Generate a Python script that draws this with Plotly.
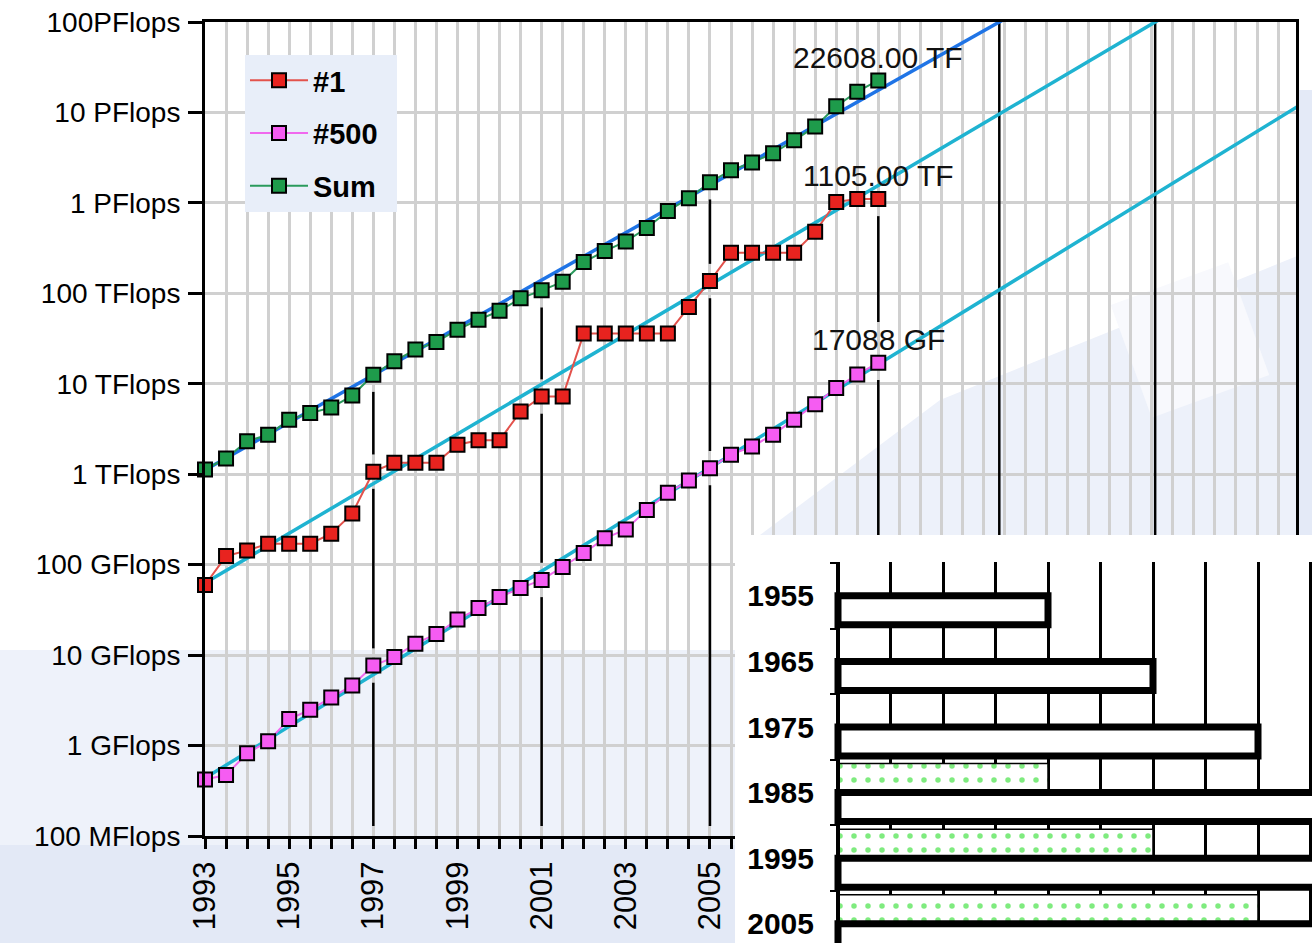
import math
import plotly.graph_objects as go

W, H = 1312, 943

# ---------------- data (TOP500 lists, June 1993 .. June 2009, GFlops) ----------------
list_years = [1993.0 + 0.5 * i for i in range(33)]

top1_gf = [59.7, 124.5, 143.4, 170.4, 170.4, 170.4, 220.4, 368.2, 1068, 1338, 1338, 1338,
           2121, 2379, 2379, 4938, 7226, 7226, 35860, 35860, 35860, 35860, 35860, 70720,
           136800, 280600, 280600, 280600, 280600, 478200, 1026000, 1105000, 1105000]

p500_gf = [0.422, 0.472, 0.822, 1.114, 1.965, 2.489, 3.39, 4.62, 7.67, 9.51, 13.39, 17.12,
           24.73, 33.1, 43.82, 55.1, 67.78, 94.3, 134.3, 195.8, 245.1, 403.4, 624, 850.6,
           1166, 1646, 2026, 2737, 4005, 5929, 9000, 12640, 17088]

sum_gf = [1128, 1493, 2314, 2732, 3994, 4763, 5452, 7404, 12600, 17800, 23900, 29000,
          39600, 51000, 64000, 88000, 108000, 134000, 222000, 293000, 375000, 528000,
          813000, 1127000, 1690000, 2300000, 2790000, 3540000, 4920000, 6970000,
          11700000, 16950000, 22608000]

# straight-line (log) extrapolations
fit_years = [1993.0, 2019.0]
sum_fit = [1.115e3, 7.4e9]
top1_fit = [62.7, 8.7e8]
p500_fit = [0.437, 1.19e7]

# years marked with vertical lines (indices into the lists)
marked_idx = [8, 16, 24, 32]

ytick_vals = [0.1, 1, 10, 100, 1e3, 1e4, 1e5, 1e6, 1e7, 1e8]
ytick_text = ["100 MFlops", "1 GFlops", "10 GFlops", "100 GFlops", "1 TFlops",
              "10 TFlops", "100 TFlops", "1 PFlops", "10 PFlops", "100PFlops"]

# inset bar chart
inset_cats = ["1955", "1965", "1975", "1985", "1995", "2005"]
inset_dotted = [0, 0, 0, 4, 6, 8]
inset_white = [4, 6, 8, 10, 10, 10]

# ---------------- geometry helpers ----------------
def px(xp):
    return xp / W

def py(yp):
    return 1 - yp / H

Y_LO, Y_HI = -1.0, 8.0
X_LO = 1993.0
X_HI = 1993.0 + (1296 - 205) / 42.08

FONT = "Arial, Liberation Sans, sans-serif"

fig = go.Figure()

# ---------------- black vertical marker lines ----------------
g = 0.19
lab_gap = 0.45
bottom = Y_LO + 10 / 90.44
vx, vy = [], []
for k, i in enumerate(marked_idx):
    ls, lt, lp = math.log10(sum_gf[i]), math.log10(top1_gf[i]), math.log10(p500_gf[i])
    last = (i == len(list_years) - 1)
    segs = []
    if not last:
        segs.append((lt + g, ls - g))
        segs.append((lp + g, lt - g))
    else:
        segs.append((lp + lab_gap, lt - g))
    segs.append((bottom, lp - g))
    for a, b in segs:
        vx += [list_years[i], list_years[i], None]
        vy += [10 ** b, 10 ** a, None]


def cross_year(vals):
    l0, l1 = math.log10(vals[0]), math.log10(vals[1])
    return fit_years[0] + (Y_HI - l0) / (l1 - l0) * (fit_years[1] - fit_years[0])


for vals in (sum_fit, top1_fit):
    yr = cross_year(vals)
    vx += [yr, yr, None]
    vy += [10 ** Y_HI, 10 ** Y_LO, None]

fig.add_trace(go.Scatter(x=vx, y=vy, mode="lines", line=dict(color="black", width=2.5),
                         showlegend=False, hoverinfo="skip", xaxis="x", yaxis="y"))

# ---------------- trend lines ----------------
for vals, col in ((p500_fit, "#1fb3d1"), (top1_fit, "#1fb3d1"), (sum_fit, "#1f74e6")):
    fig.add_trace(go.Scatter(x=fit_years, y=vals, mode="lines",
                             line=dict(color=col, width=3.5),
                             showlegend=False, hoverinfo="skip"))

# ---------------- data series ----------------
series = [
    ("#1", top1_gf, "#e8231f", "#e3524c", 1),
    ("#500", p500_gf, "#f55cf2", "#f068ee", 2),
    ("Sum", sum_gf, "#1e9b4b", "#2a9a5c", 3),
]
for name, vals, mcol, lcol, rank in series:
    fig.add_trace(go.Scatter(
        x=list_years, y=vals, name=name, mode="lines+markers",
        line=dict(color=lcol, width=2),
        marker=dict(symbol="square", size=14, color=mcol, line=dict(color="black", width=2)),
        cliponaxis=False, legendrank=rank, legendgroup=name))

# ---------------- value labels ----------------
labels = [
    (sum_gf[-1], f"{sum_gf[-1] / 1000:.2f} TF"),
    (top1_gf[-1], f"{top1_gf[-1] / 1000:.2f} TF"),
    (p500_gf[-1], f"{p500_gf[-1]:.0f} GF"),
]
annotations = []
for v, t in labels:
    annotations.append(dict(x=list_years[-1], y=math.log10(v), xref="x", yref="y", text=t,
                            showarrow=False, yshift=23, xanchor="center", yanchor="middle",
                            font=dict(family=FONT, size=30, color="#111111")))

# ---------------- inset bar chart ----------------
fig.add_trace(go.Bar(
    y=inset_cats, x=inset_dotted, orientation="h", xaxis="x2", yaxis="y2",
    marker=dict(color="white", line=dict(color="black", width=1.5),
                pattern=dict(shape=".", fgcolor="#00d800", bgcolor="white", size=14,
                             solidity=0.12)),
    showlegend=False, hoverinfo="skip"))
fig.add_trace(go.Bar(
    y=inset_cats, x=inset_white, orientation="h", xaxis="x2", yaxis="y2",
    marker=dict(color="white", line=dict(color="black", width=7)),
    showlegend=False, hoverinfo="skip"))

INSET_L, INSET_T = 735, 535
AX2 = 838
UNIT2 = 52.5
BAND = 65.6
GRID_TOP = 563


def poly(pts):
    return "M " + " L ".join(f"{px(a):.5f},{py(b):.5f}" for a, b in pts) + " Z"


def tilted_rect(cx, cy, w, h, ang):
    c, s = math.cos(math.radians(ang)), math.sin(math.radians(ang))
    pts = []
    for dx, dy in ((-w / 2, -h / 2), (w / 2, -h / 2), (w / 2, h / 2), (-w / 2, h / 2)):
        pts.append((cx + dx * c - dy * s, cy + dx * s + dy * c))
    return pts


shapes = [
    # pale background tint (watermark-like)
    dict(type="rect", xref="paper", yref="paper", x0=0, x1=px(INSET_L), y0=0, y1=py(650),
         fillcolor="#eef2fa", line_width=0, layer="below"),
    dict(type="rect", xref="paper", yref="paper", x0=0, x1=px(INSET_L), y0=0, y1=py(845),
         fillcolor="#e3e9f6", line_width=0, layer="below"),
    dict(type="path", xref="paper", yref="paper",
         path=poly([(760, 535), (940, 400), (1312, 250), (1312, 535)]),
         fillcolor="#edf1fa", line_width=0, layer="below"),
    dict(type="path", xref="paper", yref="paper", path=poly(tilted_rect(1190, 340, 125, 120, -20)),
         fillcolor="#f8f9fd", line_width=0, layer="below"),
    dict(type="rect", xref="paper", yref="paper", x0=px(1298), x1=1, y0=py(535), y1=py(90),
         fillcolor="#e4eaf7", line_width=0, layer="below"),
    # legend panel
    dict(type="rect", xref="paper", yref="paper", x0=px(245), x1=px(397), y0=py(212),
         y1=py(55), fillcolor="#e8eef9", line_width=0, layer="above"),
    # white strip at top of inset
    dict(type="rect", xref="paper", yref="paper", x0=px(INSET_L), x1=1, y0=py(GRID_TOP - 1),
         y1=py(INSET_T), fillcolor="white", line_width=0, layer="above"),
]

fig.update_layout(
    width=W, height=H, margin=dict(l=0, r=0, t=0, b=0, autoexpand=False),
    paper_bgcolor="white", plot_bgcolor="white",
    font=dict(family=FONT, color="black"),
    barmode="group", bargap=0.116, bargroupgap=0,
    showlegend=True,
    legend=dict(x=px(245), y=py(55), xanchor="left", yanchor="top",
                bgcolor="rgba(0,0,0,0)", borderwidth=0, traceorder="grouped",
                tracegroupgap=12,
                font=dict(family=FONT, size=29, weight="bold", color="black"),
                itemwidth=58),
    xaxis=dict(domain=[px(205), px(1296)], range=[X_LO, X_HI],
               tickmode="array",
               tickvals=[1993 + 0.5 * i for i in range(52)],
               ticktext=[str(1993 + i // 2) if i % 4 == 0 else "" for i in range(52)],
               tickangle=-90, ticks="outside", ticklen=10, tickwidth=3, tickcolor="black",
               ticklabelstandoff=0,
               tickfont=dict(family=FONT, size=31),
               showline=True, linecolor="black", linewidth=3, mirror=True,
               showgrid=True, gridcolor="#d0d0d0", gridwidth=2.5, zeroline=False,
               anchor="y", automargin=False),
    yaxis=dict(domain=[py(836), py(22)], type="log", range=[Y_LO, Y_HI],
               tickmode="array", tickvals=ytick_vals, ticktext=ytick_text,
               ticks="outside", ticklen=14, tickwidth=3, tickcolor="black",
               ticklabelstandoff=2,
               tickfont=dict(family=FONT, size=28),
               showline=True, linecolor="black", linewidth=3, mirror=True,
               showgrid=True, gridcolor="#d0d0d0", gridwidth=2.5, zeroline=False,
               anchor="x", automargin=False),
    xaxis2=dict(domain=[px(INSET_L), 1.0],
                range=[-(AX2 - INSET_L) / UNIT2, (W - AX2) / UNIT2],
                tickmode="array", tickvals=list(range(0, 10)),
                showticklabels=False, ticks="", showline=False, zeroline=False,
                showgrid=True, gridcolor="black", gridwidth=2.5, anchor="y2",
                automargin=False),
    yaxis2=dict(domain=[0, py(INSET_T)], type="category",
                categoryorder="array", categoryarray=inset_cats,
                range=[(H - GRID_TOP) / BAND - 0.5, -0.5 - (GRID_TOP - INSET_T) / BAND],
                anchor="free", position=px(AX2),
                showline=True, linecolor="black", linewidth=4,
                ticks="outside", tickson="boundaries", ticklen=6, tickwidth=2,
                tickcolor="black", showgrid=False, zeroline=False,
                ticklabelstandoff=16,
                tickfont=dict(family=FONT, size=30, weight="bold"),
                automargin=False),
    annotations=annotations,
    shapes=shapes,
)

fig.write_html("out.html",
               config={"displayModeBar": False},
               post_script="document.body.style.margin='0';"
                           "document.body.style.overflow='hidden';")
